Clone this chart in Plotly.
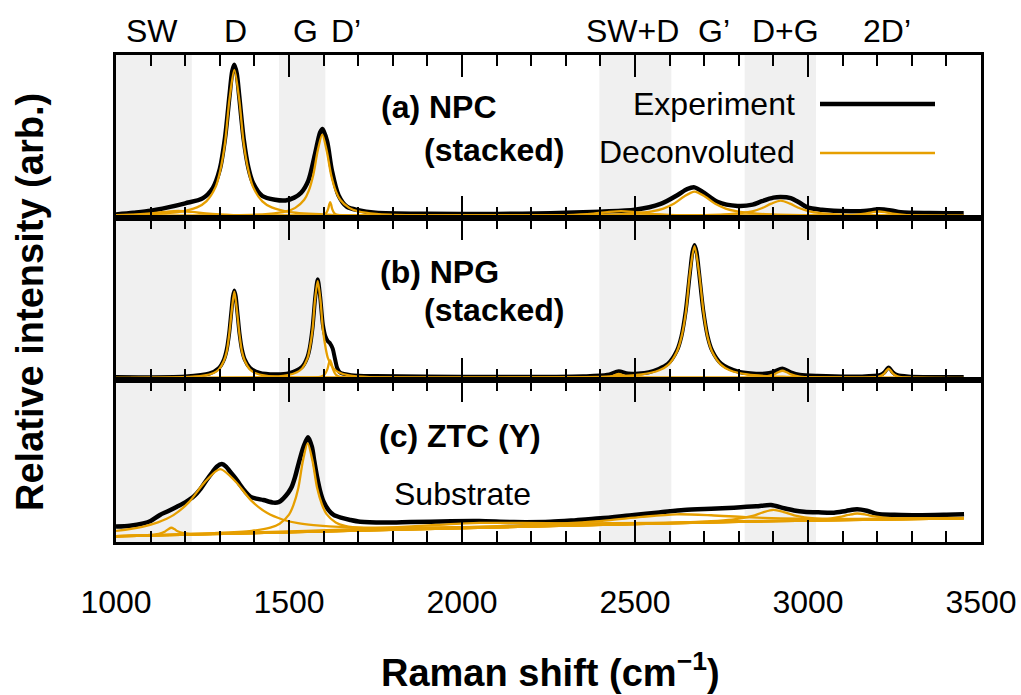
import plotly.graph_objects as go

# ---------------- data ----------------
# Raman shift (cm-1) / relative intensity (0-100 per panel)

# (a) NPC (stacked)
a_exp_x = [1000, 1050, 1100, 1150, 1200, 1250, 1280, 1300, 1315, 1328, 1336, 1342, 1349, 1356, 1369, 1383, 1396, 1423, 1460, 1490,
           1515, 1535, 1556, 1576, 1590, 1597, 1610, 1624, 1643, 1667, 1700, 1750, 1900, 2100, 2256, 2400, 2500, 2574, 2622, 2651,
           2672, 2699, 2738, 2796, 2840, 2863, 2900, 2921, 2950, 2975, 2998, 3040, 3075, 3162, 3205, 3240, 3268, 3350, 3450]
a_exp_y = [2.2, 3.2, 4.4, 6.5, 9.0, 12.0, 18.5, 30.0, 49.0, 75.0, 90.0, 94.0, 88.5, 75.0, 48.5, 30.5, 21.5, 13.5, 11.2, 10.8,
           12.5, 15.5, 23.0, 40.0, 52.5, 54.6, 47.0, 29.0, 14.0, 7.0, 4.8, 3.3, 2.6, 2.5, 2.9, 3.9, 5.0, 8.6, 14.0, 17.8,
           18.8, 15.5, 10.0, 7.4, 8.2, 10.0, 12.5, 12.9, 12.2, 9.5, 6.5, 5.0, 4.5, 4.3, 5.3, 4.6, 3.5, 3.0, 2.9]

a_base_x = [1000, 3450]
a_base_y = [1.2, 1.2]
a_sw_x = [1000, 1060, 1100, 1140, 1180, 1220, 1260, 1300, 1340, 1420, 1500, 1660, 2000, 3450]
a_sw_y = [1.7, 2.15, 2.75, 3.7, 4.3, 3.7, 2.75, 2.15, 1.8, 1.5, 1.4, 1.3, 1.25, 1.2]
a_d_x = [1000, 1072, 1180, 1234, 1261, 1288, 1301, 1315, 1328, 1342, 1356, 1369, 1383, 1396, 1423, 1450, 1504, 1612, 1800, 3450]
a_d_y = [1.75, 2.1, 3.6, 6.5, 10.2, 19.1, 28.8, 46.0, 72.9, 90.8, 72.9, 46.0, 28.8, 19.1, 10.2, 6.5, 3.6, 2.1, 1.5, 1.2]
a_g_x = [1000, 1336, 1440, 1492, 1518, 1544, 1557, 1570, 1583, 1596, 1609, 1622, 1635, 1648, 1674, 1700, 1752, 1856, 2200, 3450]
a_g_y = [1.3, 1.7, 2.55, 4.1, 6.2, 11.2, 16.6, 26.2, 41.2, 51.2, 41.2, 26.2, 16.6, 11.2, 6.2, 4.1, 2.55, 1.7, 1.35, 1.2]
a_dp_x = [1000, 1580, 1601, 1607, 1613, 1616, 1619, 1622, 1625, 1631, 1637, 1660, 3450]
a_dp_y = [1.2, 1.4, 2.05, 2.9, 5.45, 8.0, 9.7, 8.0, 5.45, 2.9, 2.05, 1.4, 1.2]
a_swd_x = [1000, 2140, 2300, 2380, 2420, 2460, 2500, 2540, 2620, 2780, 3450]
a_swd_y = [1.2, 1.38, 1.8, 2.7, 3.6, 4.2, 3.6, 2.7, 1.8, 1.38, 1.22]
a_gp_x = [1000, 2100, 2312, 2432, 2492, 2552, 2582, 2612, 2642, 2672, 2702, 2732, 2762, 2792, 2852, 2912, 3032, 3300, 3450]
a_gp_y = [1.2, 1.4, 1.6, 2.1, 2.7, 4.2, 5.8, 8.7, 13.2, 16.2, 13.2, 8.7, 5.8, 4.2, 2.7, 2.1, 1.6, 1.3, 1.25]
a_dg_x = [1000, 2500, 2701, 2756, 2811, 2839, 2866, 2894, 2921, 2948, 2976, 3004, 3031, 3086, 3141, 3300, 3450]
a_dg_y = [1.2, 1.4, 1.8, 2.15, 3.1, 4.1, 5.95, 8.8, 10.7, 8.8, 5.95, 4.1, 3.1, 2.15, 1.8, 1.4, 1.3]
a_2dp_x = [1000, 3000, 3085, 3125, 3165, 3185, 3205, 3225, 3245, 3285, 3325, 3450]
a_2dp_y = [1.2, 1.3, 1.5, 1.76, 2.6, 3.44, 4.0, 3.44, 2.6, 1.76, 1.5, 1.3]

# (b) NPG (stacked)
b_exp_x = [1000, 1200, 1270, 1297, 1312, 1320, 1327, 1334, 1338, 1342, 1346, 1350, 1357, 1364, 1372, 1387, 1414, 1460, 1500, 1538,
           1553, 1560, 1568, 1576, 1583, 1590, 1598, 1605, 1612, 1619, 1626, 1633, 1640, 1648, 1680, 1750, 2000, 2350, 2420, 2453,
           2480, 2540, 2595, 2621, 2634, 2647, 2659, 2666, 2672, 2678, 2685, 2697, 2710, 2723, 2749, 2800, 2850, 2876, 2901, 2926,
           2951, 2976, 3026, 3150, 3209, 3221, 3227, 3233, 3239, 3245, 3257, 3290, 3450]
b_exp_y = [1.8, 2.2, 4.0, 7.3, 12.7, 18.8, 28.7, 43.6, 51.6, 55.3, 51.6, 43.6, 28.7, 18.8, 12.7, 7.6, 4.5, 3.5, 4.2, 8.2,
           14.1, 20.0, 32.2, 51.5, 62.2, 51.6, 34.0, 27.0, 24.0, 22.5, 19.5, 13.0, 7.0, 4.5, 3.0, 2.4, 2.0, 2.3, 3.2, 5.4,
           4.0, 4.8, 10.0, 18.1, 26.9, 43.4, 66.5, 79.0, 83.3, 79.0, 66.5, 43.4, 26.9, 18.1, 10.1, 5.1, 3.9, 3.95, 5.05, 7.1,
           4.75, 3.3, 2.6, 2.2, 3.1, 4.8, 6.5, 7.7, 6.5, 4.8, 3.1, 2.15, 1.8]

b_base_x = [1000, 3450]
b_base_y = [1.2, 1.2]
b_d_x = [1000, 1192, 1252, 1282, 1297, 1312, 1320, 1327, 1335, 1342, 1349, 1357, 1364, 1372, 1387, 1402, 1432, 1492, 1700, 3450]
b_d_y = [1.3, 1.73, 2.64, 4.33, 6.53, 11.86, 17.6, 27.85, 43.8, 54.5, 43.8, 27.85, 17.6, 11.86, 6.53, 4.33, 2.64, 1.73, 1.3, 1.2]
b_g_x = [1000, 1433, 1493, 1523, 1538, 1553, 1560, 1568, 1575, 1583, 1591, 1598, 1606, 1613, 1628, 1643, 1673, 1733, 2000, 3450]
b_g_y = [1.25, 1.79, 2.81, 4.72, 7.18, 13.16, 19.6, 31.1, 49.0, 61.0, 49.0, 31.1, 19.6, 13.16, 7.18, 4.72, 2.81, 1.79, 1.28, 1.2]
b_dp_x = [1000, 1570, 1595, 1603, 1611, 1615, 1619, 1623, 1627, 1635, 1643, 1668, 3450]
b_dp_y = [1.2, 1.42, 2.31, 3.42, 6.75, 10.08, 12.3, 10.08, 6.75, 3.42, 2.31, 1.42, 1.2]
b_swd_x = [1000, 2350, 2417, 2435, 2444, 2453, 2462, 2471, 2489, 2556, 3450]
b_swd_y = [1.2, 1.28, 1.7, 2.45, 3.2, 3.7, 3.2, 2.45, 1.7, 1.28, 1.2]
b_gp_x = [1000, 2100, 2417, 2519, 2570, 2596, 2621, 2634, 2647, 2659, 2672, 2685, 2698, 2710, 2723, 2749, 2774, 2825, 2927, 3450]
b_gp_y = [1.2, 1.36, 2.0, 3.4, 6.0, 9.35, 17.5, 26.3, 41.95, 66.4, 82.7, 66.4, 41.95, 26.3, 17.5, 9.35, 6.0, 3.4, 2.0, 1.3]
b_dg_x = [1000, 2776, 2826, 2851, 2876, 2901, 2913.5, 2926, 2938.5, 2951, 2976, 3001, 3026, 3076, 3450]
b_dg_y = [1.2, 1.32, 1.46, 1.65, 2.1, 3.45, 4.8, 5.7, 4.8, 3.45, 2.1, 1.65, 1.46, 1.32, 1.2]
b_2dp_x = [1000, 3161, 3185, 3197, 3209, 3221, 3227, 3233, 3239, 3245, 3257, 3269, 3281, 3305, 3450]
b_2dp_y = [1.2, 1.36, 1.54, 1.78, 2.36, 4.1, 5.84, 7.0, 5.84, 4.1, 2.36, 1.78, 1.54, 1.36, 1.2]

# (c) ZTC (Y)
c_exp_x = [1000, 1040, 1079, 1100, 1127, 1150, 1176, 1200, 1224, 1245, 1262, 1280, 1291, 1306, 1318, 1330, 1345, 1359, 1374, 1388,
           1405, 1426, 1455, 1470, 1484, 1498, 1508, 1518, 1528, 1542, 1555, 1566, 1573, 1581, 1590, 1600, 1615, 1629, 1650, 1677,
           1706, 1775, 1850, 1968, 2050, 2150, 2256, 2330, 2400, 2497, 2570, 2641, 2720, 2786, 2850, 2893, 2931, 2960, 2989, 3030,
           3075, 3110, 3142, 3170, 3200, 3250, 3316, 3400, 3451]
c_exp_y = [9.5, 10.0, 11.5, 13.0, 16.7, 19.0, 21.8, 24.5, 28.0, 33.0, 38.3, 43.5, 46.5, 48.1, 46.5, 43.4, 39.5, 35.2, 31.0, 28.0,
           26.8, 25.9, 24.3, 24.6, 27.0, 30.5, 34.1, 40.5, 48.6, 58.8, 64.6, 58.8, 50.0, 40.3, 31.5, 24.9, 19.5, 16.7, 15.0, 13.6,
           12.5, 12.0, 12.3, 12.8, 12.9, 12.3, 12.5, 13.5, 14.6, 16.7, 18.2, 19.8, 20.6, 21.2, 22.0, 22.8, 20.8, 19.5, 18.7, 18.3,
           18.1, 19.2, 20.2, 19.3, 17.3, 16.8, 16.5, 16.8, 17.1]

c_base_x = [1000, 1700, 2250, 2800, 3450]
c_base_y = [3.5, 7.0, 9.8, 12.5, 14.6]
c_sw_x = [1000, 1070, 1106, 1124, 1142, 1151, 1160, 1169, 1178, 1196, 1214, 1250, 1340, 1700, 2250, 2800, 3450]
c_sw_y = [3.56, 4.0, 4.5, 5.0, 6.5, 7.9, 8.8, 7.95, 6.6, 5.4, 5.0, 4.95, 5.25, 7.0, 9.8, 12.5, 14.6]
c_d_x = [1000, 1076, 1121, 1166, 1211, 1256, 1301, 1346, 1391, 1436, 1481, 1526, 1571, 1661, 1841, 2201, 2800, 3450]
c_d_y = [6.8, 9.4, 12.1, 16.6, 24.6, 36.8, 45.0, 37.2, 25.5, 18.0, 13.9, 11.6, 10.4, 9.15, 8.8, 9.9, 12.64, 14.67]
c_g_x = [1000, 1284, 1392, 1446, 1473, 1500, 1513, 1527, 1540, 1554, 1568, 1581, 1595, 1608, 1635, 1662, 1716, 1824, 2200, 2800, 3450]
c_g_y = [3.6, 5.5, 6.9, 8.9, 11.3, 16.9, 22.9, 33.4, 49.9, 60.9, 50.0, 33.7, 23.3, 17.4, 12.1, 10.0, 8.55, 8.15, 9.6, 12.5, 14.6]
c_s1_x = [1000, 1300, 1550, 1800, 1925, 2050, 2175, 2300, 2550, 2800, 3050, 3450]
c_s1_y = [3.66, 5.3, 6.85, 9.0, 10.5, 11.75, 11.8, 11.5, 11.85, 12.8, 13.5, 14.7]
c_s2_x = [1000, 1620, 2020, 2220, 2320, 2420, 2520, 2620, 2720, 2820, 2920, 3020, 3220, 3450]
c_s2_y = [3.6, 6.8, 9.15, 10.7, 11.8, 13.35, 15.5, 17.1, 16.5, 15.3, 14.6, 14.3, 14.4, 14.9]
c_dg_x = [1000, 2300, 2540, 2660, 2720, 2780, 2810, 2840, 2870, 2900, 2930, 2960, 2990, 3020, 3080, 3140, 3260, 3450]
c_dg_y = [3.5, 10.07, 11.4, 12.2, 12.8, 13.8, 14.7, 16.1, 18.3, 19.8, 18.5, 16.5, 15.25, 14.6, 14.1, 14.0, 14.2, 14.7]
c_2dp_x = [1000, 2500, 2842, 2942, 2992, 3042, 3067, 3092, 3117, 3142, 3167, 3192, 3217, 3242, 3292, 3342, 3450]
c_2dp_y = [3.5, 11.0, 12.75, 13.2, 13.5, 14.1, 14.6, 15.45, 16.7, 17.6, 16.9, 15.75, 15.05, 14.7, 14.5, 14.45, 14.7]

# shaded regions (cm-1) and band names on top
band_x0 = [1000, 1471, 2397, 2817]
band_x1 = [1219, 1605, 2605, 3023]
band_names = ["SW", "D", "G", "D\u2019", "SW+D", "G\u2019", "D+G", "2D\u2019"]
band_name_x = [1103, 1344, 1549, 1665, 2494, 2728, 2936, 3228]

x_ticks = [1000, 1500, 2000, 2500, 3000, 3500]

# ---------------- figure ----------------
W, H = 1021, 695
BLACK = "black"
ORANGE = "#E69F00"
FONT = "Liberation Sans, Arial, sans-serif"


def px(x):
    return x / W


def py(y):
    return 1 - y / H


panels = [
    ("x", "y", a_exp_x, a_exp_y, 4.5,
     [(a_base_x, a_base_y), (a_sw_x, a_sw_y), (a_d_x, a_d_y), (a_g_x, a_g_y), (a_dp_x, a_dp_y),
      (a_swd_x, a_swd_y), (a_gp_x, a_gp_y), (a_dg_x, a_dg_y), (a_2dp_x, a_2dp_y)]),
    ("x2", "y2", b_exp_x, b_exp_y, 4.0,
     [(b_base_x, b_base_y), (b_d_x, b_d_y), (b_g_x, b_g_y), (b_dp_x, b_dp_y),
      (b_swd_x, b_swd_y), (b_gp_x, b_gp_y), (b_dg_x, b_dg_y), (b_2dp_x, b_2dp_y)]),
    ("x3", "y3", c_exp_x, c_exp_y, 4.5,
     [(c_base_x, c_base_y), (c_sw_x, c_sw_y), (c_d_x, c_d_y), (c_g_x, c_g_y), (c_s1_x, c_s1_y),
      (c_s2_x, c_s2_y), (c_dg_x, c_dg_y), (c_2dp_x, c_2dp_y)]),
]

fig = go.Figure()
for xa, ya, ex, ey, lw, comps in panels:
    fig.add_trace(go.Scatter(x=ex, y=ey, xaxis=xa, yaxis=ya, mode="lines",
                             line=dict(color=BLACK, width=lw, shape="spline", smoothing=0.8),
                             hoverinfo="skip"))
    for cx, cy in comps:
        fig.add_trace(go.Scatter(x=cx, y=cy, xaxis=xa, yaxis=ya, mode="lines",
                                 line=dict(color=ORANGE, width=2.3, shape="spline", smoothing=0.8),
                                 hoverinfo="skip"))

top_px, ab_px, bc_px, bot_px = 55, 218, 380, 542
left_px, right_px = 116, 981
xdom = [px(left_px), px(right_px)]
ydoms = [[py(ab_px), py(top_px)], [py(bc_px), py(ab_px)], [py(bot_px), py(bc_px)]]

xcommon = dict(range=[1000, 3500], domain=xdom, showline=True, linecolor=BLACK, linewidth=3,
               mirror="allticks", ticks="inside", ticklen=22, tickwidth=2, tickcolor=BLACK,
               tickmode="array", tickvals=x_ticks, automargin=False,
               minor=dict(ticks="inside", ticklen=11, tickwidth=2, tickcolor=BLACK, dtick=100, tick0=1000),
               showgrid=False, zeroline=False, fixedrange=True)
ycommon = dict(range=[0, 100], showline=True, linecolor=BLACK, linewidth=3, mirror=True, automargin=False,
               ticks="", showticklabels=False, showgrid=False, zeroline=False, fixedrange=True)

fig.update_layout(
    width=W, height=H, margin=dict(l=0, r=0, t=0, b=0, autoexpand=False),
    paper_bgcolor="white", plot_bgcolor="white", showlegend=False,
    font=dict(family=FONT, color=BLACK, size=32),
    xaxis=dict(xcommon, anchor="y", showticklabels=False),
    xaxis2=dict(xcommon, anchor="y2", showticklabels=False),
    xaxis3=dict(xcommon, anchor="y3", showticklabels=True,
                tickfont=dict(family=FONT, size=32, color=BLACK), ticklabelstandoff=30),
    yaxis=dict(ycommon, domain=ydoms[0], anchor="x"),
    yaxis2=dict(ycommon, domain=ydoms[1], anchor="x2"),
    yaxis3=dict(ycommon, domain=ydoms[2], anchor="x3"),
)

shapes = []
for x0, x1 in zip(band_x0, band_x1):
    shapes.append(dict(type="rect", xref="x", yref="paper", x0=x0, x1=x1,
                       y0=py(bot_px), y1=py(top_px), fillcolor="#f0f0f0",
                       line=dict(width=0), layer="below"))
# legend sample lines
shapes.append(dict(type="line", xref="paper", yref="paper", x0=px(820), x1=px(935),
                   y0=py(104), y1=py(104), line=dict(color=BLACK, width=4.5)))
shapes.append(dict(type="line", xref="paper", yref="paper", x0=px(820), x1=px(935),
                   y0=py(153), y1=py(153), line=dict(color=ORANGE, width=2.3)))

ann = []
for name, bx in zip(band_names, band_name_x):
    ann.append(dict(text=name, x=bx, xref="x", y=py(31), yref="paper",
                    xanchor="center", yanchor="middle", showarrow=False,
                    font=dict(size=32, family=FONT, color=BLACK)))


def label(text, x, y, size=32, xanchor="left", angle=0):
    ann.append(dict(text=text, x=px(x), y=py(y), xref="paper", yref="paper",
                    xanchor=xanchor, yanchor="middle", showarrow=False, textangle=angle,
                    font=dict(size=size, family=FONT, color=BLACK)))


label("Experiment", 797, 104, xanchor="right")
label("Deconvoluted", 797, 152, xanchor="right")
label("<b>(a) NPC</b>", 379, 107)
label("<b>(stacked)</b>", 422, 150)
label("<b>(b) NPG</b>", 378, 272)
label("<b>(stacked)</b>", 422, 310)
label("<b>(c) ZTC (Y)</b>", 377, 436)
label("Substrate", 392, 494)
label("<b>Relative intensity (arb.)</b>", 30, 302, size=38, xanchor="center", angle=-90)
label("<b>Raman shift (cm<sup>\u22121</sup>)</b>", 550, 670, size=38, xanchor="center")

fig.update_layout(shapes=shapes, annotations=ann)
fig.write_html("out.html")
